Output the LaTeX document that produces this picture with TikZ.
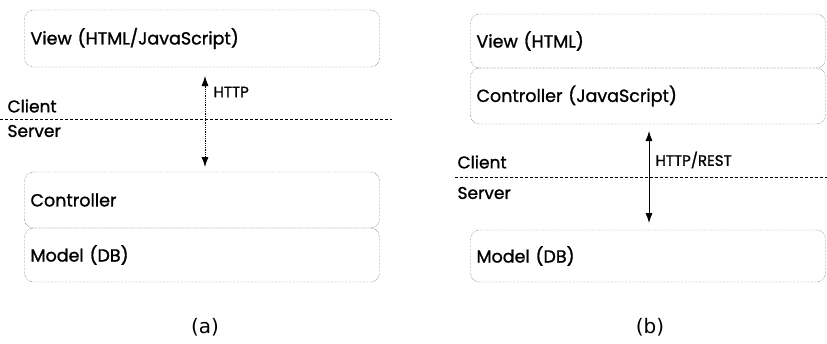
\documentclass[tikz,border=0pt]{standalone}
\usepackage{fontspec}
\setmainfont{Poppins}
\newfontfamily\boxfont{Poppins}[FakeBold=1.2]
\newfontfamily\capfont{DejaVu Sans}
\usetikzlibrary{arrows.meta}

\begin{document}
\begin{tikzpicture}[x=1pt, y=-1pt,
  layer/.style={rectangle, draw=black!80, densely dotted, rounded corners=9pt,
                minimum width=355pt, text width=343pt, align=left,
                inner xsep=6pt, font=\boxfont\fontsize{17.5}{19}\selectfont},
  side/.style={anchor=west, font=\boxfont\fontsize{17}{19}\selectfont},
  proto/.style={anchor=west, font=\boxfont\fontsize{15}{17}\selectfont},
  border/.style={densely dashed, thick},
  call/.style={{Latex[length=10pt,width=7pt]}-{Latex[length=10pt,width=7pt]}, thick},
  tag/.style={font=\capfont\fontsize{20}{24}\selectfont}
]
\useasboundingbox (0,0) rectangle (827,343);
% (a) view in the browser, rest on the server
\node[layer, minimum height=57pt] (viewA)  at (202,38.5) {View (HTML/JavaScript)};
\node[layer, minimum height=56pt] (ctrlA)  at (202,200)  {Controller};
\node[layer, minimum height=54pt] (modelA) at (202,255)  {Model (DB)};
\node[side] (clientA) at (4,106) {Client};
\node[side] (serverA) at (4,131) {Server};
\coordinate (lineA1) at (0,119);
\coordinate (lineA2) at (392,119);
\draw[border] (lineA1) -- (lineA2);
\coordinate (httpA1) at (205,76);
\coordinate (httpA2) at (205,167);
\draw[call, densely dotted] (httpA1) -- (httpA2);
\node[proto] (httpA) at (210,92) {HTTP};
\node[tag] (capA) at (205,327) {(a)};
% (b) view and controller in the browser, model on the server
\node[layer, minimum height=54pt] (viewB)  at (648,41)  {View (HTML)};
\node[layer, minimum height=56pt] (ctrlB)  at (648,96)  {Controller (JavaScript)};
\node[layer, minimum height=52pt] (modelB) at (648,256) {Model (DB)};
\node[side] (clientB) at (454,162) {Client};
\node[side] (serverB) at (454,193) {Server};
\coordinate (lineB1) at (455,177);
\coordinate (lineB2) at (827,177);
\draw[border] (lineB1) -- (lineB2);
\coordinate (restB1) at (649,131);
\coordinate (restB2) at (649,223);
\draw[call] (restB1) -- (restB2);
\node[proto] (restB) at (652,160) {HTTP/REST};
\node[tag] (capB) at (650,327) {(b)};
\end{tikzpicture}
\end{document}
